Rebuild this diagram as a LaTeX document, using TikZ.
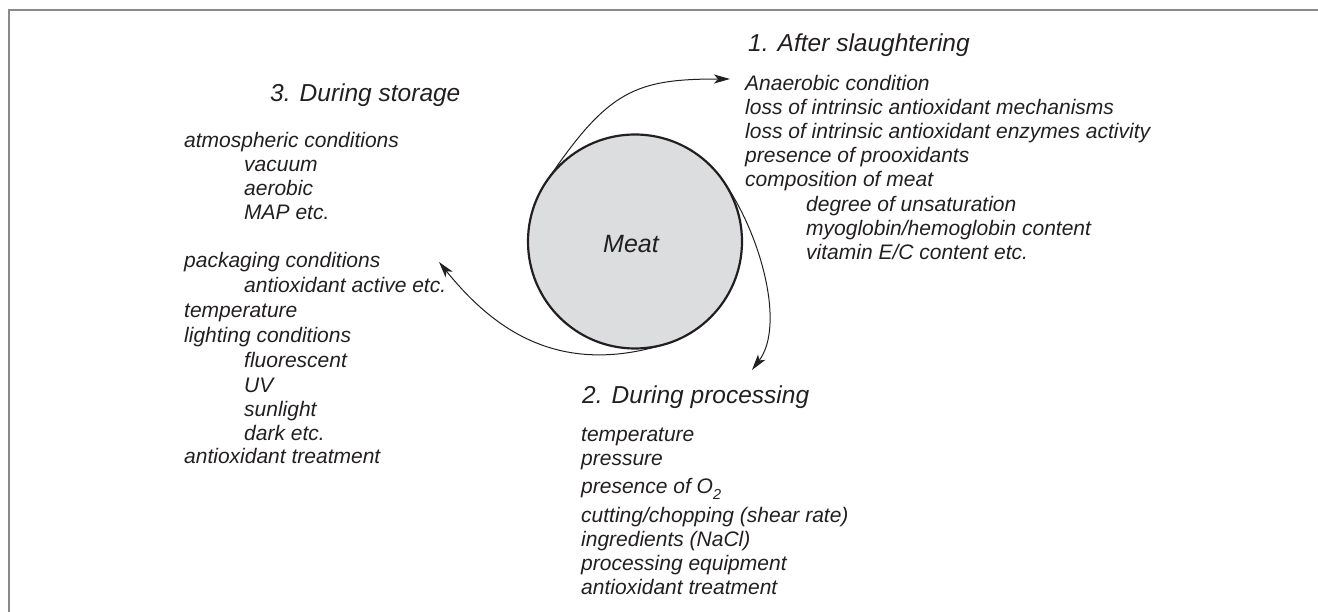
\documentclass[tikz,border=0pt]{standalone}
\usepackage{fontspec}
\setmainfont{Liberation Sans}
\usetikzlibrary{arrows.meta}
\definecolor{ink}{HTML}{231F20}
\definecolor{meatfill}{HTML}{DCDDDF}
\definecolor{framegray}{HTML}{8A8A8A}
\begin{document}
\begin{tikzpicture}[x=1pt,y=-1pt,
  lst/.style={anchor=base west, inner sep=0pt, font=\fontsize{21}{24}\selectfont\itshape, text=ink},
  hd/.style={anchor=base west, inner sep=0pt, font=\fontsize{24.5}{28}\selectfont\itshape, text=ink},
  conn/.style={line width=1pt, draw=ink, -{Stealth[length=16pt,width=9pt,inset=4pt]}},
  frameline/.style={line width=1.5pt, draw=framegray},
  meatcirc/.style={circle, draw=ink, line width=2.2pt, fill=meatfill, minimum size=214pt, inner sep=0pt, outer sep=0pt}]
\useasboundingbox (0,0) rectangle (1318,612);
\coordinate (fb) at (9,612);
\coordinate (fc) at (9,10);
\coordinate (fr) at (1318,10);
\draw[frameline] (fb) -- (fc) -- (fr);

\node[meatcirc] (meat) at (635,241.5) {};
\node[anchor=base, inner sep=0pt, font=\fontsize{25}{28}\selectfont\itshape, text=ink] (meatlbl) at (631,253) {Meat};

% headings
\node[hd] (h1) at (748,52) {1. After slaughtering};
\node[hd] (h2) at (582,403) {2. During processing};
\node[hd] (h3) at (270,102) {3. During storage};

% list 1
\node[lst] (a1) at (745,91) {Anaerobic condition};
\node[lst] (a2) at (745,115) {loss of intrinsic antioxidant mechanisms};
\node[lst] (a3) at (745,139) {loss of intrinsic antioxidant enzymes activity};
\node[lst] (a4) at (745,163) {presence of prooxidants};
\node[lst] (a5) at (745,187) {composition of meat};
\node[lst] (a6) at (806,212) {degree of unsaturation};
\node[lst] (a7) at (806,236) {myoglobin/hemoglobin content};
\node[lst] (a8) at (806,260) {vitamin E/C content etc.};

% list 2
\node[lst] (b1) at (581,442) {temperature};
\node[lst] (b2) at (581,465) {pressure};
\node[lst] (b3) at (581,493) {presence of O\raisebox{-6pt}{\fontsize{14.5}{16}\selectfont 2}};
\node[lst] (b4) at (581,522) {cutting/chopping (shear rate)};
\node[lst] (b5) at (581,546) {ingredients (NaCl)};
\node[lst] (b6) at (581,570) {processing equipment};
\node[lst] (b7) at (581,594) {antioxidant treatment};

% list 3
\node[lst] (c1) at (184,148) {atmospheric conditions};
\node[lst] (c2) at (244,172) {vacuum};
\node[lst] (c3) at (244,196) {aerobic};
\node[lst] (c4) at (244,220) {MAP etc.};
\node[lst] (c5) at (184,268) {packaging conditions};
\node[lst] (c6) at (244,293) {antioxidant active etc.};
\node[lst] (c7) at (184,318) {temperature};
\node[lst] (c8) at (184,343) {lighting conditions};
\node[lst] (c9) at (244,368) {fluorescent};
\node[lst] (c10) at (244,392) {UV};
\node[lst] (c11) at (244,417) {sunlight};
\node[lst] (c12) at (244,440) {dark etc.};
\node[lst] (c13) at (184,463) {antioxidant treatment};

% arrows
\coordinate (e1) at (730,79);
\coordinate (e2) at (752,370);
\coordinate (e3) at (439,262);
\draw[conn] (meat.146) .. controls (607.8,90.5) and (635,79) .. (e1);
\draw[conn] (meat.35) .. controls (760,232) and (786,325) .. (e2);
\draw[conn] (meat.-74) .. controls (555,378) and (490,325) .. (e3);
\end{tikzpicture}
\end{document}
